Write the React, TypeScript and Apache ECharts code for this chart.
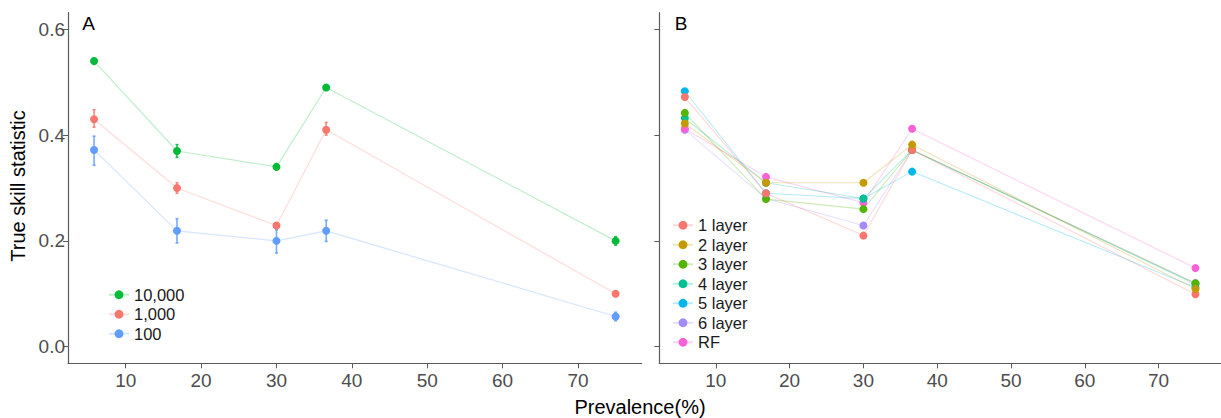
import React, { useEffect, useRef } from "react";
import * as echarts from "echarts";

// ---------- data ----------
const prevalence = [5.8, 16.8, 30, 36.6, 75];

// Panel A: sample-size groups (mean, lower, upper)
const groupNamesA = ["10,000", "1,000", "100"];
const colorsA = ["#00BA38", "#F8766D", "#619CFF"];
const mean10000 = [0.54, 0.37, 0.34, 0.49, 0.2];
const low10000 = [0.535, 0.358, 0.335, 0.485, 0.192];
const high10000 = [0.545, 0.382, 0.345, 0.495, 0.208];
const mean1000 = [0.43, 0.3, 0.229, 0.41, 0.1];
const low1000 = [0.415, 0.29, 0.224, 0.4, 0.096];
const high1000 = [0.448, 0.31, 0.234, 0.424, 0.104];
const mean100 = [0.372, 0.219, 0.2, 0.219, 0.057];
const low100 = [0.343, 0.196, 0.177, 0.199, 0.049];
const high100 = [0.398, 0.242, 0.221, 0.239, 0.065];

// Panel B: model types
const modelNames = ["1 layer", "2 layer", "3 layer", "4 layer", "5 layer", "6 layer", "RF"];
const colorsB = ["#F8766D", "#C49A00", "#53B400", "#00C094", "#00B6EB", "#A58AFF", "#FB61D7"];
const layer1 = [0.472, 0.29, 0.21, 0.372, 0.099];
const layer2 = [0.422, 0.31, 0.31, 0.382, 0.109];
const layer3 = [0.442, 0.279, 0.26, 0.372, 0.12];
const layer4 = [0.432, 0.31, 0.28, 0.372, 0.118];
const layer5 = [0.483, 0.29, 0.28, 0.331, 0.112];
const layer6 = [0.41, 0.28, 0.229, 0.372, 0.12];
const layerRF = [0.412, 0.321, 0.272, 0.412, 0.1485];

const xTicks = [10, 20, 30, 40, 50, 60, 70];
const yTicks = [0, 0.2, 0.4, 0.6];

// drawing order of panel B series (indexes into modelNames)
const drawOrderB = [5, 6, 4, 3, 2, 0, 1];

// ---------- helpers ----------
const FONT = "'Liberation Sans', Arial, sans-serif";
const AXIS_COLOR = "#5a5a5a";
const LABEL_COLOR = "#4D4D4D";

const pairs = (ys: number[]) => prevalence.map((x, i) => [x, ys[i]]);

export default function App() {
  const ref = useRef<HTMLDivElement>(null);

  useEffect(() => {
    if (!ref.current) return;
    const chart = echarts.init(ref.current, undefined, { renderer: "svg" });

    const meansA = [mean10000, mean1000, mean100];
    const lowsA = [low10000, low1000, low100];
    const highsA = [high10000, high1000, high100];
    const seriesB = [layer1, layer2, layer3, layer4, layer5, layer6, layerRF];

    const xAxisCommon = (gridIndex: number) => ({
      type: "value" as const,
      gridIndex,
      min: 2.34,
      max: 78.46,
      splitLine: { show: false },
      axisLine: { show: true, onZero: false, lineStyle: { color: AXIS_COLOR, width: 1.2 } },
      axisTick: {
        show: true,
        length: 5,
        customValues: xTicks,
        lineStyle: { color: AXIS_COLOR, width: 1 },
      },
      axisLabel: {
        show: true,
        customValues: xTicks,
        color: LABEL_COLOR,
        fontSize: 19,
        fontFamily: FONT,
        margin: 8,
      },
    });

    const yAxisCommon = (gridIndex: number, showLabels: boolean) => ({
      type: "value" as const,
      gridIndex,
      min: -0.0315,
      max: 0.6315,
      splitLine: { show: false },
      axisLine: { show: true, onZero: false, lineStyle: { color: AXIS_COLOR, width: 1.2 } },
      axisTick: {
        show: true,
        length: 5,
        customValues: yTicks,
        lineStyle: { color: AXIS_COLOR, width: 1 },
      },
      axisLabel: {
        show: showLabels,
        customValues: yTicks,
        color: LABEL_COLOR,
        fontSize: 19,
        fontFamily: FONT,
        margin: 3,
        formatter: (v: number) => v.toFixed(1),
      },
    });

    const series: any[] = [];

    // Panel A error bars
    groupNamesA.forEach((name, g) => {
      series.push({
        type: "custom",
        name: "err " + name,
        xAxisIndex: 0,
        yAxisIndex: 0,
        z: 2,
        silent: true,
        data: prevalence.map((x, i) => [x, lowsA[g][i], highsA[g][i]]),
        encode: { x: 0, y: [1, 2] },
        renderItem: (_params: any, api: any) => {
          const x = api.value(0);
          const p1 = api.coord([x, api.value(1)]);
          const p2 = api.coord([x, api.value(2)]);
          const st = { stroke: colorsA[g], lineWidth: 1.6, opacity: 0.85 };
          return {
            type: "group",
            children: [
              { type: "line", shape: { x1: p1[0], y1: p1[1], x2: p2[0], y2: p2[1] }, style: st },
              { type: "line", shape: { x1: p1[0] - 1.5, y1: p1[1], x2: p1[0] + 1.5, y2: p1[1] }, style: st },
              { type: "line", shape: { x1: p2[0] - 1.5, y1: p2[1], x2: p2[0] + 1.5, y2: p2[1] }, style: st },
            ],
          };
        },
      });
    });

    // Panel A lines + points
    groupNamesA.forEach((name, g) => {
      series.push({
        type: "line",
        name,
        xAxisIndex: 0,
        yAxisIndex: 0,
        z: 3,
        data: pairs(meansA[g]),
        symbol: "circle",
        symbolSize: 8,
        color: colorsA[g],
        itemStyle: { color: colorsA[g], opacity: 1 },
        lineStyle: { color: colorsA[g], width: 1.2, opacity: 0.25 },
        emphasis: { disabled: true },
      });
    });

    // Panel B lines + points
    drawOrderB.forEach((m) => {
      const name = modelNames[m];
      series.push({
        type: "line",
        name,
        xAxisIndex: 1,
        yAxisIndex: 1,
        z: 3,
        data: pairs(seriesB[m]),
        symbol: "circle",
        symbolSize: 8,
        color: colorsB[m],
        itemStyle: { color: colorsB[m], opacity: 1 },
        lineStyle: { color: colorsB[m], width: 1.1, opacity: 0.28 },
        emphasis: { disabled: true },
      });
    });

    const legendCommon = {
      orient: "vertical" as const,
      itemWidth: 20,
      itemHeight: 11,
      itemGap: 0,
      selectedMode: false,
      textStyle: { color: "#1a1a1a", fontSize: 16.5, fontFamily: FONT, lineHeight: 19.5 },
    };

    chart.setOption({
      animation: false,
      backgroundColor: "#ffffff",
      grid: [
        { left: 68, top: 12.7, width: 573.7, bottom: 54.7, containLabel: false },
        { left: 659.3, top: 12.7, width: 573.7, bottom: 54.7, containLabel: false },
      ],
      xAxis: [xAxisCommon(0), xAxisCommon(1)],
      yAxis: [yAxisCommon(0, true), yAxisCommon(1, false)],
      legend: [
        { ...legendCommon, left: 103, top: 280, data: groupNamesA },
        { ...legendCommon, left: 667, top: 210.5, data: modelNames },
      ],
      graphic: [
        {
          type: "text",
          x: 88.5,
          y: 23,
          style: {
            text: "A",
            fill: "#000",
            fontSize: 19,
            fontFamily: FONT,
            align: "center",
            verticalAlign: "middle",
          },
        },
        {
          type: "text",
          x: 681,
          y: 23,
          style: {
            text: "B",
            fill: "#000",
            fontSize: 19,
            fontFamily: FONT,
            align: "center",
            verticalAlign: "middle",
          },
        },
        {
          type: "text",
          x: 18,
          y: 186,
          rotation: Math.PI / 2,
          style: {
            text: "True skill statistic",
            fill: "#000",
            fontSize: 20,
            fontFamily: FONT,
            align: "center",
            verticalAlign: "middle",
          },
        },
        {
          type: "text",
          x: 640,
          y: 407,
          style: {
            text: "Prevalence(%)",
            fill: "#000",
            fontSize: 20,
            fontFamily: FONT,
            align: "center",
            verticalAlign: "middle",
          },
        },
      ],
      series,
    });

    return () => chart.dispose();
  }, []);

  return (
    <div
      ref={ref}
      style={{ position: "absolute", left: 0, top: 0, width: 1221, height: 418 }}
    />
  );
}
